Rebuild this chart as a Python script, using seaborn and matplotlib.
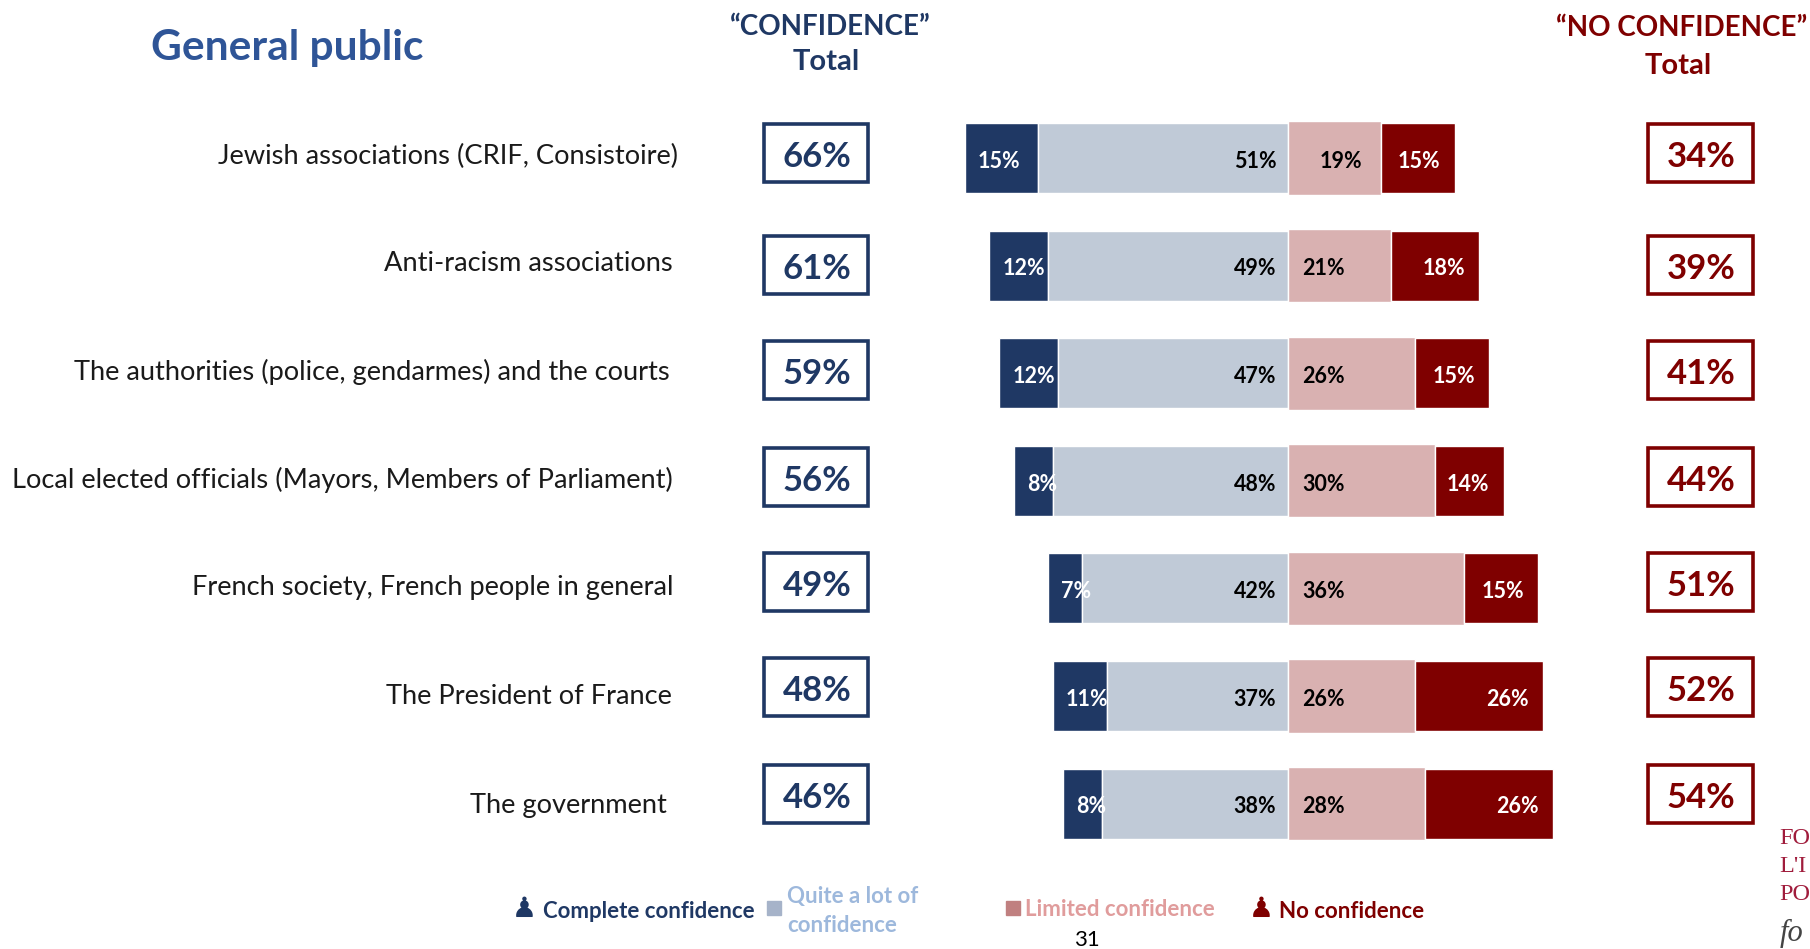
import matplotlib
matplotlib.use("Agg")
import matplotlib.pyplot as plt
from matplotlib.patches import Rectangle
import pandas as pd
import seaborn as sns

W, H = 1810, 949
categories = ["Jewish associations (CRIF, Consistoire)", "Anti-racism associations",
              "The authorities (police, gendarmes) and the courts",
              "Local elected officials (Mayors, Members of Parliament)",
              "French society, French people in general", "The President of France", "The government"]
complete = [15, 12, 12, 8, 7, 11, 8]
quite = [51, 49, 47, 48, 42, 37, 38]
limited = [19, 21, 26, 30, 36, 26, 28]
none_conf = [15, 18, 15, 14, 15, 26, 26]
total_conf = [66, 61, 59, 56, 49, 48, 46]
total_no = [34, 39, 41, 44, 51, 52, 54]

NAVY, GREY, PINK, RED = "#1F3864", "#C0CAD7", "#D9B1B1", "#7F0000"
TITLE = "#2F5597"
FONT = "Lato"
plt.rcParams["font.family"] = [FONT, "DejaVu Sans"]

df = pd.DataFrame({"cat": categories, "complete": complete, "quite": quite,
                   "limited": limited, "none": none_conf})
PX_PER = 4.9
ZERO = 1288
Y0, DY = 158, 107.6

fig = plt.figure(figsize=(W / 100, H / 100), dpi=100, facecolor="white")
ax = fig.add_axes([0, 0, 1, 1])

def stack(width, left, color, h):
    sns.barplot(data=df.assign(v=width), y="cat", x="v", left=left, color=color, width=h,
                saturation=1, edgecolor="white", linewidth=1, ax=ax, orient="y")

neg_c = [-(a + b) for a, b in zip(complete, quite)]
neg_q = [-b for b in quite]
stack(complete, neg_c, NAVY, 0.65)
stack(quite, neg_q, GREY, 0.65)
stack(limited, [0] * 7, PINK, 0.68)
stack(none_conf, limited, RED, 0.65)

ax.set_xlim(-ZERO / PX_PER, (W - ZERO) / PX_PER)
ax.set_ylim((H - Y0) / DY, -Y0 / DY)
ax.axis("off")

def fx(px): return px / W
def fy(py): return 1 - py / H

# In-bar labels
LBL = 15.5
for i in range(7):
    kw = dict(va="center", fontsize=LBL, fontweight="bold", clip_on=False)
    yy = i + 0.03
    ax.text(neg_c[i] + 2.7, yy, f"{complete[i]}%", color="white", ha="left", **kw)
    ax.text(-2.4, yy, f"{quite[i]}%", color="black", ha="right", **kw)
    ax.text(6.4 if i == 0 else 2.9, yy, f"{limited[i]}%", color="black", ha="left", **kw)
    ax.text(limited[i] + none_conf[i] - 7.2, yy, f"{none_conf[i]}%", color="white", ha="center", **kw)

# Category labels
label_right = [678, 673, 670, 673, 673, 672, 667]
label_y = [156, 264, 372, 480, 587, 696, 805]
for c, xr, yy in zip(categories, label_right, label_y):
    fig.text(fx(xr), fy(yy), c, ha="right", va="center", fontsize=19.6, color="#1a1a1a")

# Total boxes
box_y = [153, 265, 370, 477, 582, 687, 794]
for v, n, yy in zip(total_conf, total_no, box_y):
    fig.add_artist(Rectangle((fx(764), fy(yy + 29)), 104 / W, 58 / H, transform=fig.transFigure,
                             fill=False, edgecolor=NAVY, linewidth=2.6))
    fig.add_artist(Rectangle((fx(1648), fy(yy + 29)), 105 / W, 58 / H, transform=fig.transFigure,
                             fill=False, edgecolor=RED, linewidth=2.6))
    fig.text(fx(817), fy(yy + 4), f"{v}%", color=NAVY, ha="center", va="center", fontsize=25, fontweight="bold")
    fig.text(fx(1701), fy(yy + 4), f"{n}%", color=RED, ha="center", va="center", fontsize=25, fontweight="bold")

# Headers
fig.text(fx(287), fy(48), "General public", color=TITLE, ha="center", va="center", fontsize=30.5, fontweight="bold")
fig.text(fx(830), fy(27), "\u201cCONFIDENCE\u201d", color=NAVY, ha="center", va="center", fontsize=20, fontweight="bold")
fig.text(fx(826), fy(62), "Total", color=NAVY, ha="center", va="center", fontsize=21, fontweight="bold")
fig.text(fx(1682), fy(28), "\u201cNO CONFIDENCE\u201d", color=RED, ha="center", va="center", fontsize=20, fontweight="bold")
fig.text(fx(1678), fy(66), "Total", color=RED, ha="center", va="center", fontsize=21, fontweight="bold")

# Legend
fig.text(fx(524), fy(909), "\u265f", color=NAVY, family="DejaVu Sans", ha="center", va="center", fontsize=20)
fig.text(fx(543), fy(911), "Complete confidence", color=NAVY, ha="left", va="center", fontsize=16, fontweight="bold")
fig.add_artist(Rectangle((fx(767), fy(915)), 14 / W, 14 / H, transform=fig.transFigure, color="#A6B3C9"))
fig.text(fx(787), fy(896), "Quite a lot of", color="#9DB8DC", ha="left", va="center", fontsize=16, fontweight="bold")
fig.text(fx(787), fy(925), "confidence", color="#9DB8DC", ha="left", va="center", fontsize=16, fontweight="bold")
fig.add_artist(Rectangle((fx(1006), fy(915)), 14 / W, 14 / H, transform=fig.transFigure, color="#C08080"))
fig.text(fx(1025), fy(909), "Limited confidence", color="#E09C9C", ha="left", va="center", fontsize=16, fontweight="bold")
fig.text(fx(1261), fy(909), "\u265f", color=RED, family="DejaVu Sans", ha="center", va="center", fontsize=20)
fig.text(fx(1279), fy(911), "No confidence", color=RED, ha="left", va="center", fontsize=16, fontweight="bold")
fig.text(fx(1087), fy(940), "31", color="black", ha="center", va="center", fontsize=16)

# Logo fragment at the right edge, as much of it as the reference shows
for s, yy in zip(["FO", "L'I", "PO"], [838, 867, 895]):
    fig.text(fx(1779), fy(yy), s, color="#A01C3C", family="Liberation Serif", ha="left", va="center", fontsize=17.5)
fig.text(fx(1780), fy(933), "fo", color="#444444", family="Liberation Serif", style="italic",
         ha="left", va="center", fontsize=22)

fig.savefig("out.png", dpi=100, facecolor="white")
